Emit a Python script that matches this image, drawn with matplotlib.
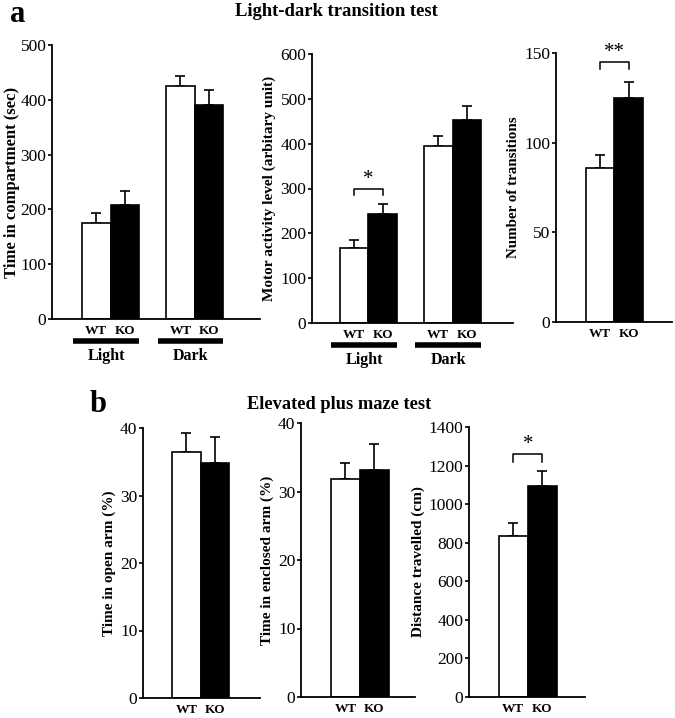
import matplotlib.pyplot as plt
import numpy as np

plt.rcParams["font.family"] = ["Liberation Serif", "DejaVu Serif"]

# ---- data -------------------------------------------------------------
groups_ld = ["Light", "Dark"]
genotypes = ["WT", "KO"]

time_compartment = [[175, 208], [425, 391]]      # sec
time_compartment_err = [[18, 25], [19, 26]]

motor_activity = [[167, 244], [394, 453]]        # arbitrary unit
motor_activity_err = [[19, 22], [23, 31]]

transitions = [86, 125]
transitions_err = [7, 9]

open_arm = [36.5, 34.8]                          # %
open_arm_err = [2.8, 3.8]

enclosed_arm = [31.8, 33.2]                      # %
enclosed_arm_err = [2.3, 3.8]

distance = [835, 1095]                           # cm
distance_err = [65, 75]

FW, FH = 675, 718


def add_ax(fig, x0, x1, y0, y1):
    """axes from pixel box (x0..x1, top y0, bottom y1)."""
    return fig.add_axes([x0 / FW, 1 - y1 / FH, (x1 - x0) / FW, (y1 - y0) / FH])


def style(ax, ylim, yticks, ylabel, lsize=11, lpad=3):
    for s in ("top", "right"):
        ax.spines[s].set_visible(False)
    for s in ("left", "bottom"):
        ax.spines[s].set_linewidth(1.3)
    ax.set_ylim(*ylim)
    ax.set_yticks(yticks)
    ax.tick_params(axis="y", direction="out", length=3, width=1.2,
                   labelsize=12.5, pad=1)
    ax.tick_params(axis="x", length=0, labelsize=9.5, pad=4)
    ax.set_ylabel(ylabel, fontsize=lsize, fontweight="bold", labelpad=lpad)


def bold_xticks(ax):
    for t in ax.get_xticklabels():
        t.set_fontweight("bold")


def pair(ax, left, vals, errs):
    xs = [left + 0.5, left + 1.5]
    ax.bar(xs, vals, width=1.0, color=["white", "black"],
           edgecolor="black", linewidth=1.2, zorder=2)
    ax.errorbar(xs, vals, yerr=[[0, 0], errs], fmt="none", ecolor="black",
                elinewidth=1.2, capsize=3.5, capthick=1.2, zorder=1)
    return xs


def bracket(ax, xs, top, drop, text):
    ax.plot([xs[0], xs[0], xs[1], xs[1]], [top - drop, top, top, top - drop],
            color="black", lw=1.1, clip_on=False)
    ax.text(np.mean(xs), top, text, ha="center", va="bottom", fontsize=15,
            clip_on=False)


def group_bars(ax, lefts, names):
    ax.set_xticks([l + 0.5 for l in lefts] + [l + 1.5 for l in lefts])
    ax.set_xticklabels(["WT"] * len(lefts) + ["KO"] * len(lefts))
    bold_xticks(ax)
    tr = ax.get_xaxis_transform()
    h = ax.bbox.height
    for l, n in zip(lefts, names):
        ax.plot([l - 0.3, l + 2.0], [-22 / h, -22 / h], color="black", lw=4,
                transform=tr, clip_on=False, solid_capstyle="butt")
        ax.text(l + 0.85, -29 / h, n, transform=tr, ha="center", va="top",
                fontsize=11.5, fontweight="bold")


fig = plt.figure(figsize=(FW / 100, FH / 100), dpi=100)

# ---- a: light-dark transition test -----------------------------------
ax1 = add_ax(fig, 52, 260, 45, 319)
ax1.set_xlim(0, 7.27)
l1 = [1.05, 3.99]
for l, v, e in zip(l1, time_compartment, time_compartment_err):
    pair(ax1, l, v, e)
style(ax1, (0, 500), range(0, 501, 100), "Time in compartment (sec)", 12, 0.5)
group_bars(ax1, l1, groups_ld)

ax2 = add_ax(fig, 312, 513, 54, 323)
ax2.set_xlim(0, 7.05)
l2 = [0.98, 3.93]
xs_light = None
for l, v, e in zip(l2, motor_activity, motor_activity_err):
    xs = pair(ax2, l, v, e)
    if xs_light is None:
        xs_light = xs
style(ax2, (0, 600), range(0, 601, 100),
      "Motor activity level (arbitary unit)", 11)
group_bars(ax2, l2, groups_ld)
bracket(ax2, xs_light, 300, 14, "*")

ax3 = add_ax(fig, 556, 672, 53, 322)
ax3.set_xlim(0, 4.07)
xs = pair(ax3, 1.05, transitions, transitions_err)
style(ax3, (0, 150), range(0, 151, 50), "Number of transitions", 10.8)
ax3.set_xticks(xs)
ax3.set_xticklabels(genotypes)
bold_xticks(ax3)
bracket(ax3, xs, 145, 4, "**")

# ---- b: elevated plus maze test ----------------------------------------
panels_b = [
    ((143, 260, 428, 698), 4.1, 1.02, open_arm, open_arm_err,
     (0, 40), range(0, 41, 10), "Time in open arm (%)"),
    ((301, 415, 423, 697), 3.93, 1.03, enclosed_arm, enclosed_arm_err,
     (0, 40), range(0, 41, 10), "Time in enclosed arm (%)"),
    ((469, 585, 427, 697), 4.0, 1.03, distance, distance_err,
     (0, 1400), range(0, 1401, 200), "Distance travelled (cm)"),
]
axes_b = []
for box, xmax, left, vals, errs, ylim, yt, lab in panels_b:
    ax = add_ax(fig, *box)
    ax.set_xlim(0, xmax)
    xs = pair(ax, left, vals, errs)
    style(ax, ylim, yt, lab, 11)
    ax.set_xticks(xs)
    ax.set_xticklabels(genotypes)
    bold_xticks(ax)
    axes_b.append((ax, xs))
bracket(axes_b[2][0], axes_b[2][1], 1260, 40, "*")

# ---- panel letters / titles ------------------------------------------
fig.text(10 / FW, 1 - 14 / FH, "a", fontsize=22, fontweight="bold", va="center")
fig.text(336 / FW, 1 - 11 / FH, "Light-dark transition test", fontsize=13.4,
         fontweight="bold", ha="center", va="center")
fig.text(90 / FW, 1 - 405 / FH, "b", fontsize=22, fontweight="bold", va="center")
fig.text(339 / FW, 1 - 404 / FH, "Elevated plus maze test", fontsize=13.2,
         fontweight="bold", ha="center", va="center")

fig.savefig("out.png", dpi=100)
